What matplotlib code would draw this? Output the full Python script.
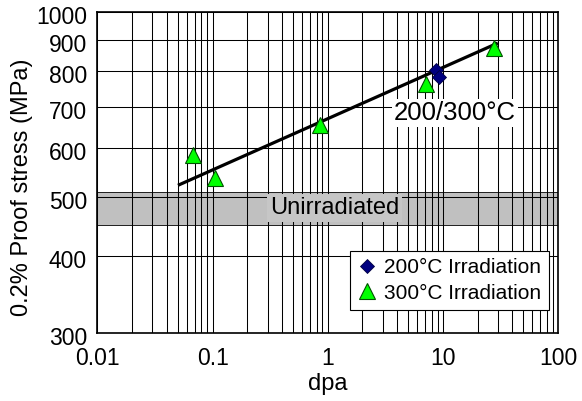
import matplotlib
matplotlib.use("Agg")
import matplotlib.pyplot as plt
from matplotlib.ticker import FixedLocator, FixedFormatter, NullFormatter, NullLocator
from matplotlib.transforms import ScaledTranslation

plt.rcParams['font.family'] = ['Liberation Sans', 'DejaVu Sans']

# Proof stress measurements after irradiation
dpa_200 = [8.7, 9.3]
stress_200 = [805, 783]

dpa_300 = [0.068, 0.105, 0.85, 7.1, 27.9]
stress_300 = [585, 536, 655, 763, 873]

# Trend line for both irradiation temperatures
fit_dpa = [0.05, 30]
fit_stress = [522, 890]

# Range of the unirradiated material
unirr_low, unirr_high = 450, 510

x_ticks = [0.01, 0.1, 1, 10, 100]
x_tick_labels = ["0.01", "0.1", "1", "10", "100"]
y_ticks = [300, 400, 500, 600, 700, 800, 900, 1000]
y_tick_labels = ["300", "400", "500", "600", "700", "800", "900", "1000"]

fig = plt.figure(figsize=(5.82, 4.01), dpi=100)
ax = fig.add_axes([0.1675, 0.1696, 0.7913, 0.8005])
ax.set_xscale('log')
ax.set_yscale('log')
ax.set_xlim(0.01, 100)
ax.set_ylim(300, 1000)

# x grid: every decade plus the 2..9 subdivisions
x_minor = [m * d for d in [0.01, 0.1, 1, 10] for m in range(2, 10)]
ax.xaxis.set_major_locator(FixedLocator(x_ticks))
ax.xaxis.set_major_formatter(FixedFormatter(x_tick_labels))
ax.xaxis.set_minor_locator(FixedLocator(x_minor))
ax.xaxis.set_minor_formatter(NullFormatter())
ax.yaxis.set_major_locator(FixedLocator(y_ticks))
ax.yaxis.set_major_formatter(FixedFormatter(y_tick_labels))
ax.yaxis.set_minor_locator(NullLocator())

ax.grid(True, which='both', axis='x', color='black', lw=0.75, zorder=1)
ax.grid(True, which='major', axis='y', color='black', lw=0.75, zorder=1)
ax.set_axisbelow(True)

ax.tick_params(axis='both', which='both', length=0, labelsize=16.5)
ax.tick_params(axis='x', pad=10)
ax.tick_params(axis='y', pad=7.5)
for lab in ax.get_yticklabels():
    lab.set_transform(lab.get_transform() + ScaledTranslation(0, -3 / 100, fig.dpi_scale_trans))

for sp in ax.spines.values():
    sp.set_linewidth(1.2)
    sp.set_color('black')

# Unirradiated band
ax.axhspan(unirr_low, unirr_high, facecolor='#c0c0c0', edgecolor='black', lw=0.6, zorder=0.5)
ax.text(1.15, (unirr_low * unirr_high) ** 0.5, "Unirradiated", fontsize=17, ha='center', va='center',
        bbox=dict(facecolor='#c6c6c6', edgecolor='none', pad=2), zorder=2)

# Trend line and data
ax.plot(fit_dpa, fit_stress, color='black', lw=2.3, zorder=3, solid_capstyle='butt')
ax.plot(dpa_300, stress_300, linestyle='none', marker='^', markersize=11,
        markerfacecolor='#00ff00', markeredgecolor='#005000', markeredgewidth=0.8,
        zorder=4, label='300°C Irradiation')
ax.plot(dpa_200, stress_200, linestyle='none', marker='D', markersize=7,
        markerfacecolor='#000080', markeredgecolor='#000040', markeredgewidth=0.6,
        zorder=5, label='200°C Irradiation')

ax.text(12.8, 685, "200/300°C", fontsize=18.5, ha='center', va='center',
        bbox=dict(facecolor='white', edgecolor='none', pad=1.5), zorder=2.5)

ax.set_xlabel("dpa", fontsize=17, labelpad=2)
ax.set_ylabel("0.2% Proof stress (MPa)", fontsize=17)
ax.yaxis.set_label_coords(-0.14, 0.455)

handles, labels = ax.get_legend_handles_labels()
leg = ax.legend(handles[::-1], labels[::-1], loc='lower right', bbox_to_anchor=(0.98, 0.072),
                borderaxespad=0, fontsize=15, frameon=True, fancybox=False, framealpha=1,
                edgecolor='black', handlelength=0.9, handletextpad=0.4, borderpad=0.35,
                labelspacing=0.3)
leg.get_frame().set_linewidth(0.8)
leg.set_zorder(6)

fig.savefig("out.png", dpi=100)
